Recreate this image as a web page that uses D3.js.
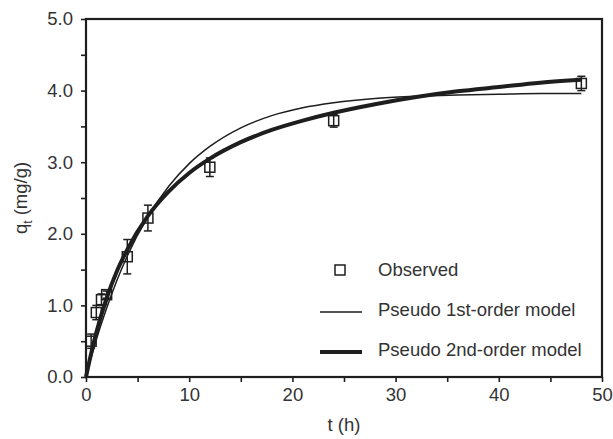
<!DOCTYPE html>
<html>
<head>
<meta charset="utf-8">
<script src="https://cdn.jsdelivr.net/npm/d3@7"></script>
<style>
  body { margin: 0; background: #fff; }
  svg { display: block; font-family: "Liberation Sans", Arial, sans-serif; }
</style>
</head>
<body>
<svg id="chart" width="613" height="439"></svg>
<script>
// observed uptake with error bars
const timeH = [0.5, 1, 1.5, 2, 4, 6, 12, 24, 48];
const qObs  = [0.50, 0.90, 1.08, 1.15, 1.68, 2.22, 2.93, 3.58, 4.10];
const qErr  = [0.10, 0.10, 0.08, 0.05, 0.24, 0.18, 0.13, 0.09, 0.10];

// model curves
const tModel = [0, 0.5, 1, 2, 3, 4, 6, 8, 10, 12, 15, 18, 21, 24, 28, 32, 36, 40, 44, 48];
const qPFO   = [0, 0.27, 0.52, 0.96, 1.35, 1.69, 2.24, 2.66, 2.98, 3.22, 3.48, 3.65, 3.76, 3.83, 3.89, 3.92, 3.94, 3.95, 3.96, 3.96];
const qPSO   = [0, 0.33, 0.62, 1.10, 1.48, 1.78, 2.25, 2.59, 2.85, 3.05, 3.28, 3.45, 3.58, 3.69, 3.81, 3.91, 3.99, 4.05, 4.11, 4.15];

const xTicks = [0, 10, 20, 30, 40, 50];
const yTicks = [0, 1, 2, 3, 4, 5];

const legendLabels = ['Observed', 'Pseudo 1st-order model', 'Pseudo 2nd-order model'];

const ink = '#1e1e1e';
const box = { left: 86, right: 602, top: 19, bottom: 377 };

const svg = d3.select('#chart');

const x = d3.scaleLinear().domain([0, 50]).range([box.left, box.right]);
const y = d3.scaleLinear().domain([0, 5]).range([box.bottom, box.top]);

// 坐标轴
function styleAxis(g) {
  g.selectAll('.domain').remove();
  g.selectAll('line').attr('stroke', ink).attr('stroke-width', 1.6);
  g.selectAll('text').attr('fill', '#333').style('font-size', '18.5px');
}

svg.append('g')
  .attr('transform', `translate(0,${box.bottom})`)
  .call(d3.axisBottom(x).tickValues(d3.range(5, 50, 10)).tickSize(5).tickFormat(''))
  .call(styleAxis);
svg.append('g')
  .attr('transform', `translate(0,${box.bottom})`)
  .call(d3.axisBottom(x).tickValues(xTicks).tickSize(5).tickPadding(6).tickFormat(d3.format('d')))
  .call(styleAxis);

svg.append('g')
  .attr('transform', `translate(${box.left},0)`)
  .call(d3.axisLeft(y).tickValues(d3.range(0.5, 5, 1)).tickSize(5).tickFormat(''))
  .call(styleAxis);
svg.append('g')
  .attr('transform', `translate(${box.left},0)`)
  .call(d3.axisLeft(y).tickValues(yTicks).tickSize(5).tickPadding(8).tickFormat(d3.format('.1f')))
  .call(styleAxis);

// frame
svg.append('rect')
  .attr('x', box.left).attr('y', box.top)
  .attr('width', box.right - box.left).attr('height', box.bottom - box.top)
  .attr('fill', 'none').attr('stroke', ink).attr('stroke-width', 2.2);

// axis titles
svg.append('text')
  .attr('x', (box.left + box.right) / 2).attr('y', 431)
  .attr('text-anchor', 'middle').attr('fill', '#333')
  .style('font-size', '18.5px')
  .text('t (h)');

const yTitle = svg.append('text')
  .attr('transform', `translate(27,${(box.top + box.bottom) / 2}) rotate(-90)`)
  .attr('text-anchor', 'middle').attr('fill', '#333')
  .style('font-size', '18.5px');
yTitle.append('tspan').text('q');
yTitle.append('tspan').attr('dy', 5).style('font-size', '12px').text('t');
yTitle.append('tspan').attr('dy', -5).text(' (mg/g)');

// model curves
const line = d3.line()
  .x(d => x(d[0]))
  .y(d => y(d[1]))
  .curve(d3.curveMonotoneX);

svg.append('path')
  .datum(d3.zip(tModel, qPFO))
  .attr('d', line)
  .attr('fill', 'none').attr('stroke', ink).attr('stroke-width', 1.5);

svg.append('path')
  .datum(d3.zip(tModel, qPSO))
  .attr('d', line)
  .attr('fill', 'none').attr('stroke', ink).attr('stroke-width', 4);

// observed points
const obs = timeH.map((t, i) => ({ t, q: qObs[i], e: qErr[i] }));
const pts = svg.append('g').attr('stroke', ink).attr('fill', 'none').attr('stroke-width', 1.5);
const cap = 4, half = 5;

pts.selectAll('.err').data(obs).join('line')
  .attr('x1', d => x(d.t)).attr('x2', d => x(d.t))
  .attr('y1', d => y(d.q - d.e)).attr('y2', d => y(d.q + d.e));
pts.selectAll('.capTop').data(obs).join('line')
  .attr('x1', d => x(d.t) - cap).attr('x2', d => x(d.t) + cap)
  .attr('y1', d => y(d.q + d.e)).attr('y2', d => y(d.q + d.e));
pts.selectAll('.capBot').data(obs).join('line')
  .attr('x1', d => x(d.t) - cap).attr('x2', d => x(d.t) + cap)
  .attr('y1', d => y(d.q - d.e)).attr('y2', d => y(d.q - d.e));
pts.selectAll('rect').data(obs).join('rect')
  .attr('x', d => x(d.t) - half).attr('y', d => y(d.q) - half)
  .attr('width', half * 2).attr('height', half * 2);

// legend
const lg = svg.append('g');
lg.append('rect')
  .attr('x', 335).attr('y', 265).attr('width', 10).attr('height', 10)
  .attr('fill', 'none').attr('stroke', ink).attr('stroke-width', 1.5);
lg.append('line').attr('x1', 320).attr('x2', 362).attr('y1', 312).attr('y2', 312)
  .attr('stroke', ink).attr('stroke-width', 1.5);
lg.append('line').attr('x1', 320).attr('x2', 362).attr('y1', 352).attr('y2', 352)
  .attr('stroke', ink).attr('stroke-width', 4);
lg.selectAll('text').data(legendLabels).join('text')
  .attr('x', 378).attr('y', (d, i) => 276 + i * 40)
  .attr('fill', '#333').style('font-size', '18.5px')
  .text(d => d);
</script>
</body>
</html>
